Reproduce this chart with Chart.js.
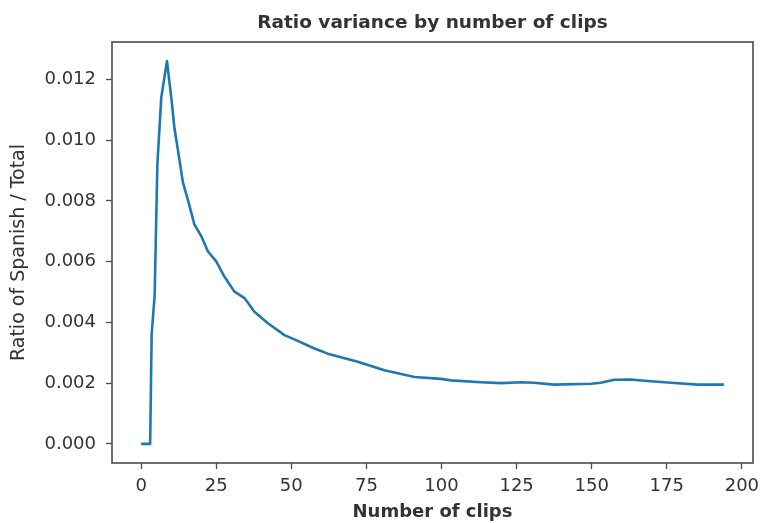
<!DOCTYPE html>
<html>
<head>
<meta charset="utf-8">
<script src="https://cdn.jsdelivr.net/npm/chart.js@4.4.1/dist/chart.umd.min.js"></script>
<style>
  html, body { margin: 0; padding: 0; background: #fff; }
  #wrap { width: 760px; height: 523px; }
</style>
</head>
<body>
<div id="wrap"><canvas id="ratio-chart"></canvas></div>
<script>
// values
const clips = [0, 3, 3.5, 4.5, 5.4, 6.7, 8.6, 10.2, 11.1, 12.2, 13.9, 15.5, 17.7, 20, 22.2, 25,
    27.7, 31, 34.4, 37.7, 42.2, 47.7, 51, 57.7, 62.1, 72.1, 81, 91, 99.8, 103.2, 113.1, 119.8,
    126.5, 130.8, 137.5, 149.8, 153, 157.5, 163, 168.6, 176.4, 185.3, 194];
const ratio = [0, 0, 0.0036, 0.0049, 0.0092, 0.0114, 0.0126, 0.01126, 0.01038, 0.00971, 0.00861,
    0.00806, 0.00723, 0.00684, 0.00634, 0.00601, 0.00551, 0.00502, 0.0048, 0.00435, 0.00397,
    0.00358, 0.00344, 0.00314, 0.00297, 0.0027, 0.00242, 0.0022, 0.00214, 0.00209, 0.00203,
    0.002, 0.00203, 0.00201, 0.00195, 0.00198, 0.00201, 0.00211, 0.00212, 0.00207, 0.00201,
    0.00195, 0.00195];
const xTicks = [0, 25, 50, 75, 100, 125, 150, 175, 200];
const yTicks = [0, 0.002, 0.004, 0.006, 0.008, 0.010, 0.012];
const chartTitle = "Ratio variance by number of clips";

const textColor = "#333";
const frameColor = "#4a4a4a";

// box around the plot area + title centred over it (matplotlib style)
const framePlugin = {
    id: "frame",
    afterDraw(chart) {
        const a = chart.chartArea;
        const c = chart.ctx;
        c.save();
        c.strokeStyle = frameColor;
        c.lineWidth = 1.6;
        c.strokeRect(a.left, a.top, a.right - a.left, a.bottom - a.top);
        c.fillStyle = textColor;
        c.font = "bold 18.5px 'DejaVu Sans'";
        c.textAlign = "center";
        c.textBaseline = "middle";
        c.fillText(chartTitle, (a.left + a.right) / 2, 23);
        c.restore();
    }
};

let points = clips.map((x, i) => ({ x: x, y: ratio[i] }));

let ctx = document.getElementById("ratio-chart");
new Chart(ctx, {
    type: "line",
    data: {
        datasets: [{
            label: "ratio",
            data: points,
            borderColor: "#1f77b4",
            borderWidth: 2.6,
            borderJoinStyle: "round",
            pointRadius: 0,
            tension: 0,
            fill: false
        }]
    },
    options: {
        responsive: true,
        maintainAspectRatio: false,
        animation: false,
        layout: { padding: { left: 0, right: 7, top: 42, bottom: 0 } },
        plugins: {
            legend: { display: false },
            tooltip: { enabled: false },
            title: { display: false }
        },
        scales: {
            x: {
                type: "linear",
                min: -9.7,
                max: 203.7,
                afterBuildTicks: s => { s.ticks = xTicks.map(v => ({ value: v })); },
                afterFit: s => { s.height = 60; s.paddingLeft = 0; s.paddingRight = 0; },
                border: { display: false },
                grid: { drawOnChartArea: false, drawTicks: true, tickLength: 6, color: frameColor, tickWidth: 1.3 },
                ticks: {
                    color: textColor,
                    padding: 7,
                    maxRotation: 0,
                    font: { family: "DejaVu Sans", size: 18 }
                },
                title: {
                    display: true,
                    text: "Number of clips",
                    color: textColor,
                    font: { family: "DejaVu Sans", size: 18, weight: "bold", lineHeight: 1.2 },
                    padding: { top: 0, bottom: 0 }
                }
            },
            y: {
                type: "linear",
                min: -0.00063,
                max: 0.01323,
                afterBuildTicks: s => { s.ticks = yTicks.map(v => ({ value: v })); },
                afterFit: s => { s.width = 112; s.paddingTop = 0; s.paddingBottom = 0; },
                border: { display: false },
                grid: { drawOnChartArea: false, drawTicks: true, tickLength: 6, color: frameColor, tickWidth: 1.3 },
                ticks: {
                    color: textColor,
                    padding: 10,
                    font: { family: "DejaVu Sans", size: 18 },
                    callback: v => v.toFixed(3)
                },
                title: {
                    display: true,
                    text: "Ratio of Spanish / Total",
                    color: textColor,
                    font: { family: "DejaVu Sans", size: 19, lineHeight: 1.2 },
                    padding: { top: 8, bottom: 0 }
                }
            }
        }
    },
    plugins: [framePlugin]
});
</script>
</body>
</html>
